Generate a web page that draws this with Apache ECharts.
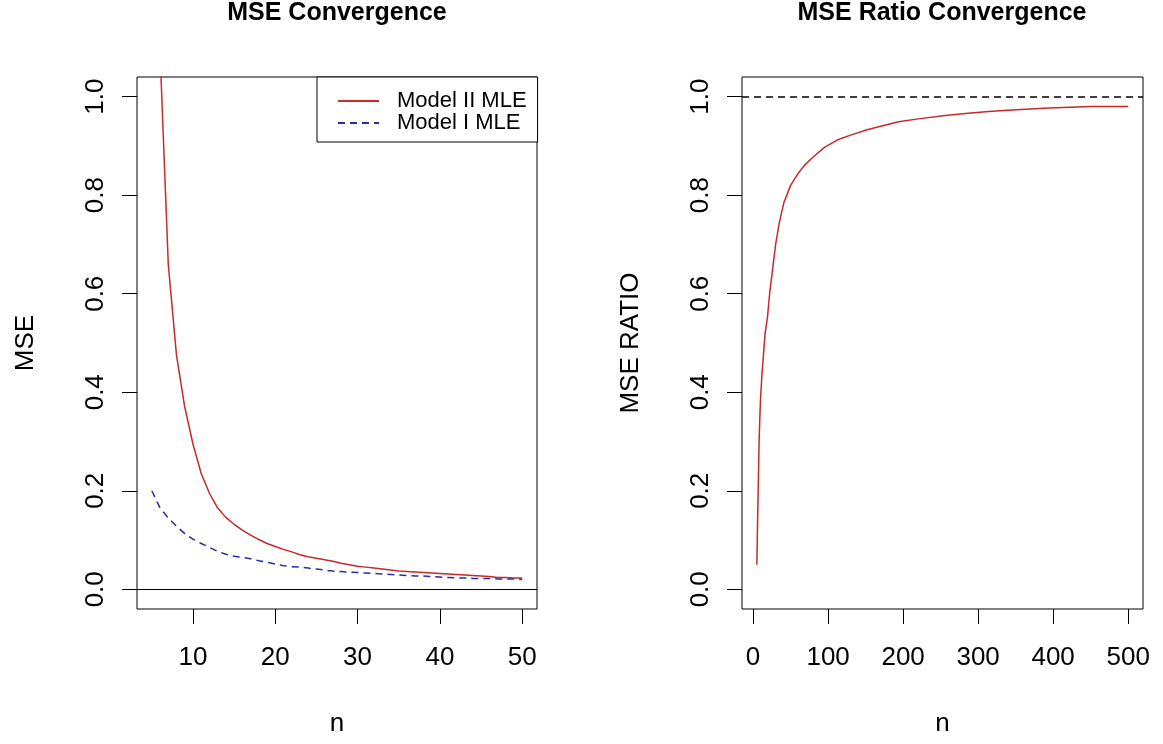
<!DOCTYPE html>
<html>
<head>
<meta charset="utf-8">
<title>MSE Convergence</title>
<script src="https://cdn.jsdelivr.net/npm/echarts@6.0.0/dist/echarts.min.js"></script>
<style>
  html, body { margin: 0; padding: 0; background: #ffffff; }
  #chart { width: 1163px; height: 744px; }
</style>
</head>
<body>
<div id="chart"></div>
<script>
// left panel: MSE by sample size
const nLeft = [5, 6, 7, 8, 9, 10, 11, 12, 13, 14, 15, 16, 17, 18, 19, 20, 21, 22, 23, 24, 25, 26, 27,
    28, 29, 30, 31, 32, 33, 34, 35, 36, 37, 38, 39, 40, 41, 42, 43, 44, 45, 46, 47, 48, 49, 50];
const mseModel2 = [4.0, 1.09, 0.66, 0.475, 0.37, 0.295, 0.235, 0.195, 0.165, 0.146, 0.132, 0.12, 0.11,
    0.101, 0.093, 0.087, 0.081, 0.076, 0.07, 0.066, 0.063, 0.06, 0.057, 0.053, 0.05, 0.047, 0.045, 0.043,
    0.041, 0.039, 0.037, 0.036, 0.035, 0.034, 0.033, 0.032, 0.031, 0.030, 0.029, 0.028, 0.027, 0.026,
    0.024, 0.024, 0.023, 0.023];
const mseModel1 = [0.20, 0.165, 0.145, 0.128, 0.113, 0.102, 0.093, 0.085, 0.077, 0.071, 0.067, 0.065,
    0.062, 0.058, 0.055, 0.051, 0.048, 0.046, 0.045, 0.043, 0.041, 0.039, 0.037, 0.036, 0.035, 0.034,
    0.033, 0.032, 0.031, 0.030, 0.029, 0.028, 0.027, 0.027, 0.026, 0.025, 0.024, 0.023, 0.023, 0.022,
    0.022, 0.022, 0.021, 0.021, 0.021, 0.020];
const leftXTicks = [10, 20, 30, 40, 50];
const yTicks = [0, 0.2, 0.4, 0.6, 0.8, 1.0];

// right panel: ratio of the two MSEs
const nRight = [5, 6, 7, 8, 9, 10, 12, 14, 16, 19, 22, 26, 30, 35, 41, 50, 59, 68, 79, 95, 112, 130,
    152, 170, 194, 220, 256, 283, 314, 345, 394, 451, 500];
const mseRatio = [0.05, 0.14, 0.22, 0.30, 0.35, 0.39, 0.44, 0.48, 0.52, 0.55, 0.60, 0.65, 0.70, 0.745,
    0.785, 0.82, 0.842, 0.86, 0.876, 0.897, 0.912, 0.922, 0.933, 0.940, 0.949, 0.955, 0.962, 0.966,
    0.970, 0.973, 0.977, 0.980, 0.980];
const rightXTicks = [0, 100, 200, 300, 400, 500];

const font = 'Liberation Sans, Arial, sans-serif';

function pairs(xs, ys) {
    return xs.map((x, i) => [x, ys[i]]);
}

function xAxisFor(idx, min, max, ticks) {
    return {
        gridIndex: idx, type: 'value', min: min, max: max,
        axisLine: { show: false, onZero: false },
        axisTick: { show: true, inside: false, length: 15, customValues: ticks, lineStyle: { color: '#000' } },
        axisLabel: { customValues: ticks, margin: 36, fontSize: 26, color: '#000', fontFamily: font },
        splitLine: { show: false },
        name: 'n', nameLocation: 'middle', nameGap: 102, nameMoveOverlap: false,
        nameTextStyle: { fontSize: 26, color: '#000', fontFamily: font }
    };
}

function yAxisFor(idx, name) {
    return {
        gridIndex: idx, type: 'value', min: -0.04, max: 1.04,
        axisLine: { show: false, onZero: false },
        axisTick: { show: true, inside: false, length: 15, customValues: yTicks, lineStyle: { color: '#000' } },
        axisLabel: {
            customValues: yTicks, rotate: 90, margin: 28, fontSize: 26, color: '#000', fontFamily: font,
            formatter: v => v.toFixed(1)
        },
        splitLine: { show: false },
        name: name, nameLocation: 'middle', nameGap: 98, nameMoveOverlap: false,
        nameTextStyle: { fontSize: 26, color: '#000', fontFamily: font }
    };
}

const chart = echarts.init(document.getElementById('chart'));
chart.setOption({
    animation: false,
    backgroundColor: '#ffffff',
    title: [
        { text: 'MSE Convergence', left: 337, top: 1, textAlign: 'center', padding: 0,
          textStyle: { fontSize: 25, fontWeight: 'bold', color: '#000', fontFamily: font } },
        { text: 'MSE Ratio Convergence', left: 942, top: 1, textAlign: 'center', padding: 0,
          textStyle: { fontSize: 25, fontWeight: 'bold', color: '#000', fontFamily: font } }
    ],
    legend: {
        left: 317, top: 77, orient: 'vertical',
        data: ['Model II MLE', 'Model I MLE'],
        padding: [13, 11, 8, 20],
        itemWidth: 41, itemHeight: 20, itemGap: 0,
        itemStyle: { color: 'rgba(0,0,0,0)', borderWidth: 0, opacity: 0 },
        borderColor: '#000', borderWidth: 1, backgroundColor: '#fff',
        textStyle: { fontSize: 22, color: '#000', fontFamily: font, lineHeight: 20, padding: [0, 0, 0, 13] }
    },
    grid: [
        { left: 137, top: 77, width: 400, height: 532, show: true, borderColor: '#000', borderWidth: 1,
          outerBoundsMode: 'none' },
        { left: 742, top: 77, width: 401, height: 532, show: true, borderColor: '#000', borderWidth: 1,
          outerBoundsMode: 'none' }
    ],
    xAxis: [
        xAxisFor(0, 3.2, 51.8, leftXTicks),
        xAxisFor(1, -14.8, 519.8, rightXTicks)
    ],
    yAxis: [
        yAxisFor(0, 'MSE'),
        yAxisFor(1, 'MSE RATIO')
    ],
    series: [
        {
            name: 'Model II MLE', type: 'line', xAxisIndex: 0, yAxisIndex: 0,
            data: pairs(nLeft, mseModel2), symbol: 'none', clip: true,
            lineStyle: { color: '#C62A2A', width: 1.5 }, itemStyle: { color: '#C62A2A' },
            markLine: {
                silent: true, symbol: 'none', label: { show: false },
                lineStyle: { color: '#000', type: 'solid', width: 1.2 },
                data: [{ yAxis: 0 }]
            }
        },
        {
            name: 'Model I MLE', type: 'line', xAxisIndex: 0, yAxisIndex: 0,
            data: pairs(nLeft, mseModel1), symbol: 'none', clip: true,
            lineStyle: { color: '#2A2E9E', width: 1.5, type: [7, 5] }, itemStyle: { color: '#2A2E9E' }
        },
        {
            name: 'MSE Ratio', type: 'line', xAxisIndex: 1, yAxisIndex: 1,
            data: pairs(nRight, mseRatio), symbol: 'none', clip: true,
            lineStyle: { color: '#C62A2A', width: 1.5 },
            markLine: {
                silent: true, symbol: 'none', label: { show: false },
                lineStyle: { color: '#000', type: [7, 5], width: 1.5 },
                data: [{ yAxis: 1 }]
            }
        }
    ]
});
</script>
</body>
</html>
